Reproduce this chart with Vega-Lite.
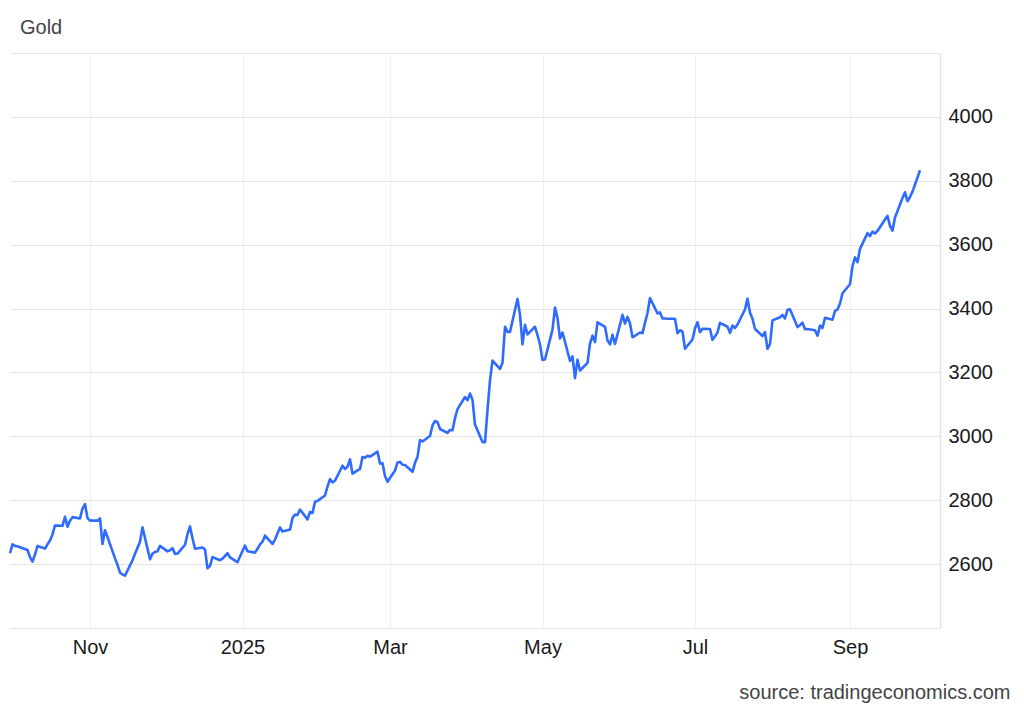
{
  "$schema": "https://vega.github.io/schema/vega-lite/v6.json",
  "width": 930,
  "height": 575,
  "autosize": {"type": "none"},
  "padding": {"left": 10, "top": 53, "right": 84, "bottom": 82},
  "background": "white",
  "title": {"text": "Gold", "anchor": "start", "frame": "group", "dx": 10, "offset": 15, "fontSize": 20, "font": "Liberation Sans", "fontWeight": "normal", "color": "#444444"},
  "config": {"view": {"stroke": null}, "font": "Liberation Sans"},
  "data": {"values": [
    {"date": "2024-09-30", "price": 2634}, {"date": "2024-10-01", "price": 2662}, {"date": "2024-10-02", "price": 2657}, {"date": "2024-10-03", "price": 2656}, {"date": "2024-10-04", "price": 2653},
    {"date": "2024-10-07", "price": 2644}, {"date": "2024-10-08", "price": 2622}, {"date": "2024-10-09", "price": 2608}, {"date": "2024-10-10", "price": 2630}, {"date": "2024-10-11", "price": 2657},
    {"date": "2024-10-14", "price": 2649}, {"date": "2024-10-15", "price": 2662}, {"date": "2024-10-16", "price": 2674}, {"date": "2024-10-17", "price": 2693}, {"date": "2024-10-18", "price": 2721},
    {"date": "2024-10-21", "price": 2720}, {"date": "2024-10-22", "price": 2748}, {"date": "2024-10-23", "price": 2717}, {"date": "2024-10-24", "price": 2736}, {"date": "2024-10-25", "price": 2747},
    {"date": "2024-10-28", "price": 2743}, {"date": "2024-10-29", "price": 2774}, {"date": "2024-10-30", "price": 2788}, {"date": "2024-10-31", "price": 2744}, {"date": "2024-11-01", "price": 2736},
    {"date": "2024-11-04", "price": 2736}, {"date": "2024-11-05", "price": 2743}, {"date": "2024-11-06", "price": 2663}, {"date": "2024-11-07", "price": 2706}, {"date": "2024-11-08", "price": 2685},
    {"date": "2024-11-11", "price": 2618}, {"date": "2024-11-12", "price": 2598}, {"date": "2024-11-13", "price": 2573}, {"date": "2024-11-14", "price": 2568}, {"date": "2024-11-15", "price": 2564},
    {"date": "2024-11-18", "price": 2612}, {"date": "2024-11-19", "price": 2632}, {"date": "2024-11-20", "price": 2651}, {"date": "2024-11-21", "price": 2670}, {"date": "2024-11-22", "price": 2715},
    {"date": "2024-11-25", "price": 2615}, {"date": "2024-11-26", "price": 2633}, {"date": "2024-11-27", "price": 2638}, {"date": "2024-11-28", "price": 2640}, {"date": "2024-11-29", "price": 2657},
    {"date": "2024-12-02", "price": 2640}, {"date": "2024-12-03", "price": 2643}, {"date": "2024-12-04", "price": 2650}, {"date": "2024-12-05", "price": 2632}, {"date": "2024-12-06", "price": 2633},
    {"date": "2024-12-09", "price": 2660}, {"date": "2024-12-10", "price": 2694}, {"date": "2024-12-11", "price": 2718}, {"date": "2024-12-12", "price": 2681}, {"date": "2024-12-13", "price": 2648},
    {"date": "2024-12-16", "price": 2652}, {"date": "2024-12-17", "price": 2646}, {"date": "2024-12-18", "price": 2587}, {"date": "2024-12-19", "price": 2594}, {"date": "2024-12-20", "price": 2622},
    {"date": "2024-12-23", "price": 2612}, {"date": "2024-12-24", "price": 2617}, {"date": "2024-12-26", "price": 2634}, {"date": "2024-12-27", "price": 2621}, {"date": "2024-12-30", "price": 2606},
    {"date": "2024-12-31", "price": 2624}, {"date": "2025-01-02", "price": 2658}, {"date": "2025-01-03", "price": 2640}, {"date": "2025-01-06", "price": 2636}, {"date": "2025-01-07", "price": 2648},
    {"date": "2025-01-08", "price": 2662}, {"date": "2025-01-09", "price": 2670}, {"date": "2025-01-10", "price": 2689}, {"date": "2025-01-13", "price": 2663}, {"date": "2025-01-14", "price": 2677},
    {"date": "2025-01-15", "price": 2696}, {"date": "2025-01-16", "price": 2715}, {"date": "2025-01-17", "price": 2702}, {"date": "2025-01-20", "price": 2708}, {"date": "2025-01-21", "price": 2744},
    {"date": "2025-01-22", "price": 2755}, {"date": "2025-01-23", "price": 2754}, {"date": "2025-01-24", "price": 2771}, {"date": "2025-01-27", "price": 2740}, {"date": "2025-01-28", "price": 2763},
    {"date": "2025-01-29", "price": 2760}, {"date": "2025-01-30", "price": 2795}, {"date": "2025-01-31", "price": 2798}, {"date": "2025-02-03", "price": 2815}, {"date": "2025-02-04", "price": 2843},
    {"date": "2025-02-05", "price": 2866}, {"date": "2025-02-06", "price": 2856}, {"date": "2025-02-07", "price": 2861}, {"date": "2025-02-10", "price": 2908}, {"date": "2025-02-11", "price": 2898},
    {"date": "2025-02-12", "price": 2905}, {"date": "2025-02-13", "price": 2928}, {"date": "2025-02-14", "price": 2883}, {"date": "2025-02-17", "price": 2898}, {"date": "2025-02-18", "price": 2935},
    {"date": "2025-02-19", "price": 2933}, {"date": "2025-02-20", "price": 2939}, {"date": "2025-02-21", "price": 2936}, {"date": "2025-02-24", "price": 2952}, {"date": "2025-02-25", "price": 2915},
    {"date": "2025-02-26", "price": 2916}, {"date": "2025-02-27", "price": 2876}, {"date": "2025-02-28", "price": 2858}, {"date": "2025-03-03", "price": 2893}, {"date": "2025-03-04", "price": 2918},
    {"date": "2025-03-05", "price": 2920}, {"date": "2025-03-06", "price": 2911}, {"date": "2025-03-07", "price": 2910}, {"date": "2025-03-10", "price": 2889}, {"date": "2025-03-11", "price": 2917},
    {"date": "2025-03-12", "price": 2935}, {"date": "2025-03-13", "price": 2988}, {"date": "2025-03-14", "price": 2984}, {"date": "2025-03-17", "price": 3001}, {"date": "2025-03-18", "price": 3034},
    {"date": "2025-03-19", "price": 3048}, {"date": "2025-03-20", "price": 3044}, {"date": "2025-03-21", "price": 3023}, {"date": "2025-03-24", "price": 3011}, {"date": "2025-03-25", "price": 3020},
    {"date": "2025-03-26", "price": 3019}, {"date": "2025-03-27", "price": 3057}, {"date": "2025-03-28", "price": 3085}, {"date": "2025-03-31", "price": 3123}, {"date": "2025-04-01", "price": 3113},
    {"date": "2025-04-02", "price": 3134}, {"date": "2025-04-03", "price": 3114}, {"date": "2025-04-04", "price": 3037}, {"date": "2025-04-07", "price": 2982}, {"date": "2025-04-08", "price": 2982},
    {"date": "2025-04-09", "price": 3082}, {"date": "2025-04-10", "price": 3175}, {"date": "2025-04-11", "price": 3237}, {"date": "2025-04-14", "price": 3211}, {"date": "2025-04-15", "price": 3230},
    {"date": "2025-04-16", "price": 3343}, {"date": "2025-04-17", "price": 3327}, {"date": "2025-04-18", "price": 3327}, {"date": "2025-04-21", "price": 3430}, {"date": "2025-04-22", "price": 3381},
    {"date": "2025-04-23", "price": 3288}, {"date": "2025-04-24", "price": 3349}, {"date": "2025-04-25", "price": 3319}, {"date": "2025-04-28", "price": 3343}, {"date": "2025-04-29", "price": 3317},
    {"date": "2025-04-30", "price": 3288}, {"date": "2025-05-01", "price": 3239}, {"date": "2025-05-02", "price": 3241}, {"date": "2025-05-05", "price": 3334}, {"date": "2025-05-06", "price": 3403},
    {"date": "2025-05-07", "price": 3370}, {"date": "2025-05-08", "price": 3306}, {"date": "2025-05-09", "price": 3325}, {"date": "2025-05-12", "price": 3236}, {"date": "2025-05-13", "price": 3250},
    {"date": "2025-05-14", "price": 3182}, {"date": "2025-05-15", "price": 3240}, {"date": "2025-05-16", "price": 3206}, {"date": "2025-05-19", "price": 3230}, {"date": "2025-05-20", "price": 3290},
    {"date": "2025-05-21", "price": 3315}, {"date": "2025-05-22", "price": 3295}, {"date": "2025-05-23", "price": 3357}, {"date": "2025-05-26", "price": 3343}, {"date": "2025-05-27", "price": 3300},
    {"date": "2025-05-28", "price": 3288}, {"date": "2025-05-29", "price": 3318}, {"date": "2025-05-30", "price": 3289}, {"date": "2025-06-02", "price": 3380}, {"date": "2025-06-03", "price": 3353},
    {"date": "2025-06-04", "price": 3374}, {"date": "2025-06-05", "price": 3353}, {"date": "2025-06-06", "price": 3310}, {"date": "2025-06-09", "price": 3325}, {"date": "2025-06-10", "price": 3323},
    {"date": "2025-06-11", "price": 3355}, {"date": "2025-06-12", "price": 3386}, {"date": "2025-06-13", "price": 3433}, {"date": "2025-06-16", "price": 3385}, {"date": "2025-06-17", "price": 3388},
    {"date": "2025-06-18", "price": 3369}, {"date": "2025-06-19", "price": 3369}, {"date": "2025-06-20", "price": 3368}, {"date": "2025-06-23", "price": 3368}, {"date": "2025-06-24", "price": 3323},
    {"date": "2025-06-25", "price": 3332}, {"date": "2025-06-26", "price": 3328}, {"date": "2025-06-27", "price": 3274}, {"date": "2025-06-30", "price": 3303}, {"date": "2025-07-01", "price": 3338},
    {"date": "2025-07-02", "price": 3357}, {"date": "2025-07-03", "price": 3326}, {"date": "2025-07-04", "price": 3337}, {"date": "2025-07-07", "price": 3336}, {"date": "2025-07-08", "price": 3302},
    {"date": "2025-07-09", "price": 3313}, {"date": "2025-07-10", "price": 3325}, {"date": "2025-07-11", "price": 3355}, {"date": "2025-07-14", "price": 3343}, {"date": "2025-07-15", "price": 3324},
    {"date": "2025-07-16", "price": 3347}, {"date": "2025-07-17", "price": 3339}, {"date": "2025-07-18", "price": 3350}, {"date": "2025-07-21", "price": 3397}, {"date": "2025-07-22", "price": 3431},
    {"date": "2025-07-23", "price": 3387}, {"date": "2025-07-24", "price": 3368}, {"date": "2025-07-25", "price": 3336}, {"date": "2025-07-28", "price": 3314}, {"date": "2025-07-29", "price": 3326},
    {"date": "2025-07-30", "price": 3274}, {"date": "2025-07-31", "price": 3289}, {"date": "2025-08-01", "price": 3363}, {"date": "2025-08-04", "price": 3373}, {"date": "2025-08-05", "price": 3380},
    {"date": "2025-08-06", "price": 3369}, {"date": "2025-08-07", "price": 3396}, {"date": "2025-08-08", "price": 3398}, {"date": "2025-08-11", "price": 3342}, {"date": "2025-08-12", "price": 3348},
    {"date": "2025-08-13", "price": 3356}, {"date": "2025-08-14", "price": 3335}, {"date": "2025-08-15", "price": 3336}, {"date": "2025-08-18", "price": 3332}, {"date": "2025-08-19", "price": 3315},
    {"date": "2025-08-20", "price": 3347}, {"date": "2025-08-21", "price": 3339}, {"date": "2025-08-22", "price": 3371}, {"date": "2025-08-25", "price": 3365}, {"date": "2025-08-26", "price": 3393},
    {"date": "2025-08-27", "price": 3397}, {"date": "2025-08-28", "price": 3416}, {"date": "2025-08-29", "price": 3448}, {"date": "2025-09-01", "price": 3476}, {"date": "2025-09-02", "price": 3533},
    {"date": "2025-09-03", "price": 3560}, {"date": "2025-09-04", "price": 3545}, {"date": "2025-09-05", "price": 3587}, {"date": "2025-09-08", "price": 3636}, {"date": "2025-09-09", "price": 3627},
    {"date": "2025-09-10", "price": 3641}, {"date": "2025-09-11", "price": 3635}, {"date": "2025-09-12", "price": 3643}, {"date": "2025-09-15", "price": 3679}, {"date": "2025-09-16", "price": 3690},
    {"date": "2025-09-17", "price": 3659}, {"date": "2025-09-18", "price": 3644}, {"date": "2025-09-19", "price": 3685}, {"date": "2025-09-22", "price": 3746}, {"date": "2025-09-23", "price": 3764},
    {"date": "2025-09-24", "price": 3736}, {"date": "2025-09-25", "price": 3749}, {"date": "2025-09-26", "price": 3766}, {"date": "2025-09-29", "price": 3833}
  ]},
  "mark": {"type": "line", "color": "#2f6bff", "strokeWidth": 2.6, "strokeJoin": "round"},
  "encoding": {
    "x": {
      "field": "date", "type": "temporal",
      "scale": {"type": "utc", "domain": [{"year": 2024, "month": 9, "date": 30, "utc": true}, {"year": 2025, "month": 10, "date": 7, "utc": true}]},
      "axis": {
        "values": [
          {"year": 2024, "month": 11, "date": 1, "utc": true},
          {"year": 2025, "month": 1, "date": 1, "utc": true},
          {"year": 2025, "month": 3, "date": 1, "utc": true},
          {"year": 2025, "month": 5, "date": 1, "utc": true},
          {"year": 2025, "month": 7, "date": 1, "utc": true},
          {"year": 2025, "month": 9, "date": 1, "utc": true}
        ],
        "labelExpr": "utcFormat(datum.value, '%m') == '01' ? utcFormat(datum.value, '%Y') : utcFormat(datum.value, '%b')",
        "grid": true, "gridColor": "#edf1f6", "gridWidth": 1,
        "domain": false, "ticks": false,
        "labelPadding": 9, "labelFontSize": 20, "labelColor": "#1a1a1a", "labelFont": "Liberation Sans",
        "title": "source: tradingeconomics.com",
        "titleX": 1000, "titleY": 64, "titleAlign": "right", "titleBaseline": "middle", "titleAnchor": null,
        "titleFontSize": 20, "titleFontWeight": "normal", "titleColor": "#444444", "titleFont": "Liberation Sans"
      }
    },
    "y": {
      "field": "price", "type": "quantitative",
      "scale": {"domain": [2400, 4200], "nice": false, "zero": false},
      "axis": {
        "orient": "right",
        "values": [2400, 2600, 2800, 3000, 3200, 3400, 3600, 3800, 4000, 4200],
        "labelExpr": "datum.value == 2400 || datum.value == 4200 ? '' : datum.label",
        "format": "d",
        "grid": true, "gridColor": "#e4e4e4", "gridWidth": 1,
        "domain": true, "domainColor": "#e4e4e4", "domainWidth": 1.5,
        "ticks": false,
        "labelPadding": 8, "labelFontSize": 20, "labelColor": "#1a1a1a", "labelFont": "Liberation Sans",
        "title": null
      }
    }
  }
}
